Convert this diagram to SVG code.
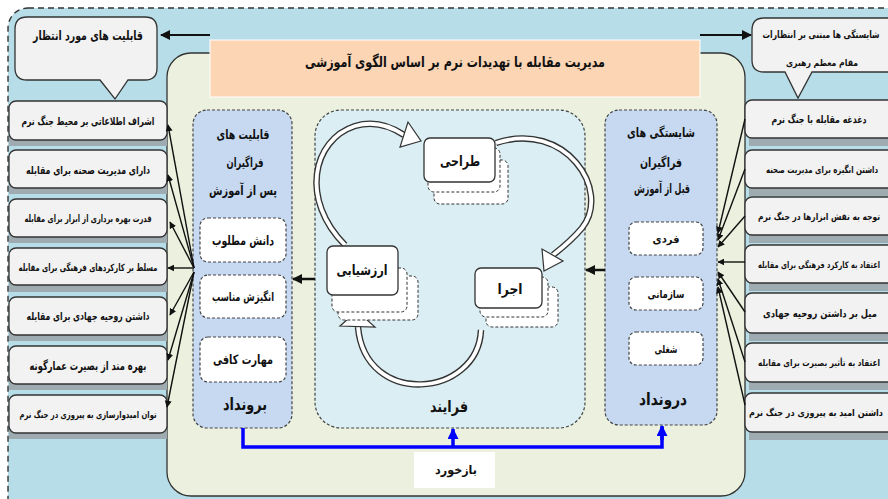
<svg xmlns="http://www.w3.org/2000/svg" width="888" height="499" viewBox="0 0 888 499">
<defs>
<style>
text{font-family:"DejaVu Sans","Noto Sans",sans-serif;font-weight:bold;fill:#111;text-anchor:middle}
.box{fill:#f2f2f2;stroke:#333;stroke-width:1.3}
.shadow{fill:#9eabb1}
.col{fill:#c6d9f1;stroke:#444;stroke-width:1.2;stroke-dasharray:3 2}
.inner{fill:#fff;stroke:#444;stroke-width:1.2;stroke-dasharray:3 2}
.pbox{fill:#fff;stroke:#333;stroke-width:1.3}
.pdash{fill:#fff;stroke:#333;stroke-width:1;stroke-dasharray:3 2}
.fan{stroke:#111;stroke-width:1.4;fill:none;marker-end:url(#ah)}
.band1{fill:none;stroke:#333;stroke-width:6.5}
.band2{fill:none;stroke:#fff;stroke-width:3.8}
.head{fill:#fff;stroke:#333;stroke-width:1.2}
.blue{fill:none;stroke:#0000ff;stroke-width:3.5}
</style>
<marker id="ah" viewBox="0 0 10 10" refX="9" refY="5" markerWidth="7" markerHeight="7" markerUnits="userSpaceOnUse" orient="auto">
<path d="M0,0 L10,5 L0,10 z" fill="#111"/>
</marker>
<marker id="ahb" viewBox="0 0 10 10" refX="9" refY="5" markerWidth="10" markerHeight="10" markerUnits="userSpaceOnUse" orient="auto">
<path d="M0,0 L10,5 L0,10 z" fill="#111"/>
</marker>
<marker id="ahblue" viewBox="0 0 10 10" refX="9" refY="5" markerWidth="11" markerHeight="11" markerUnits="userSpaceOnUse" orient="auto">
<path d="M0,0 L10,5 L0,10 z" fill="#0000ff"/>
</marker>
</defs>

<!-- background -->
<rect x="8" y="8" width="900" height="520" rx="20" fill="#b7dde8" stroke="#333" stroke-width="1.4" stroke-dasharray="6 4"/>
<rect x="167" y="53" width="578" height="443" rx="24" fill="#ebf1de" stroke="#333" stroke-width="1.3"/>

<g id="title">
<rect x="210" y="40" width="490" height="57" fill="#fcd5b4" stroke="#fff" stroke-width="1"/>
<text x="455" y="67" font-size="15" textLength="300" lengthAdjust="spacingAndGlyphs">مدیریت مقابله با تهدیدات نرم بر اساس الگوی آموزشی</text>
</g>

<g id="callout-left">
<path class="box" d="M27,17 H145 Q157,17 157,29 V68 Q157,80 145,80 H128 L115,99 L100,80 H27 Q15,80 15,68 V29 Q15,17 27,17 Z"/>
<text x="88" y="40" font-size="13" textLength="110" lengthAdjust="spacingAndGlyphs">قابلیت های مورد انتظار</text>
</g>
<g id="callout-right">
<path class="box" d="M764,18 H893 V72 H812 L798,98 L785,72 H764 Q752,72 752,60 V30 Q752,18 764,18 Z"/>
<text x="821" y="38" font-size="10" textLength="117" lengthAdjust="spacingAndGlyphs">شایستگی ها مبتنی بر انتظارات</text>
<text x="822" y="66" font-size="9.5" textLength="72" lengthAdjust="spacingAndGlyphs">مقام معظم رهبری</text>
</g>

<!-- left boxes -->
<g id="left-boxes">
<g id="L1"><rect class="shadow" x="9" y="106" width="158" height="40"/><rect class="box" x="9" y="101" width="158" height="39" rx="7"/><text x="88" y="125" font-size="11" textLength="133" lengthAdjust="spacingAndGlyphs">اشراف اطلاعاتی بر محیط جنگ نرم</text></g>
<g id="L2"><rect class="shadow" x="9" y="155" width="158" height="39"/><rect class="box" x="9" y="150" width="158" height="38" rx="7"/><text x="88" y="174" font-size="11" textLength="124" lengthAdjust="spacingAndGlyphs">دارای مدیریت صحنه برای مقابله</text></g>
<g id="L3"><rect class="shadow" x="9" y="204" width="158" height="39"/><rect class="box" x="9" y="199" width="158" height="38" rx="7"/><text x="88" y="222" font-size="10" textLength="127" lengthAdjust="spacingAndGlyphs">قدرت بهره برداری از ابزار برای مقابله</text></g>
<g id="L4"><rect class="shadow" x="9" y="253" width="158" height="39"/><rect class="box" x="9" y="248" width="158" height="37" rx="7"/><text x="88" y="271" font-size="10" textLength="139" lengthAdjust="spacingAndGlyphs">مسلط بر کارکردهای فرهنگی برای مقابله</text></g>
<g id="L5"><rect class="shadow" x="9" y="302" width="158" height="39"/><rect class="box" x="9" y="297" width="158" height="38" rx="7"/><text x="88" y="320" font-size="11" textLength="123" lengthAdjust="spacingAndGlyphs">داشتن روحیه جهادی برای مقابله</text></g>
<g id="L6"><rect class="shadow" x="9" y="351" width="158" height="39"/><rect class="box" x="9" y="346" width="158" height="38" rx="7"/><text x="88" y="370" font-size="12" textLength="117" lengthAdjust="spacingAndGlyphs">بهره مند از بصیرت عمارگونه</text></g>
<g id="L7"><rect class="shadow" x="9" y="400" width="158" height="39"/><rect class="box" x="9" y="395" width="158" height="38" rx="7"/><text x="88" y="418" font-size="9.5" textLength="137" lengthAdjust="spacingAndGlyphs">توان امیدوارسازی به پیروزی در جنگ نرم</text></g>
</g>

<!-- right boxes -->
<g id="right-boxes">
<g id="R1"><rect class="shadow" x="749" y="106" width="150" height="40"/><rect class="box" x="745" y="100" width="150" height="38" rx="7"/><text x="819" y="123" font-size="10.5" textLength="95" lengthAdjust="spacingAndGlyphs">دغدغه مقابله با جنگ نرم</text></g>
<g id="R2"><rect class="shadow" x="749" y="156" width="150" height="40"/><rect class="box" x="745" y="150" width="150" height="38" rx="7"/><text x="822" y="173" font-size="9.5" textLength="112" lengthAdjust="spacingAndGlyphs">داشتن انگیزه برای مدیریت صحنه</text></g>
<g id="R3"><rect class="shadow" x="749" y="203" width="150" height="40"/><rect class="box" x="745" y="197" width="150" height="38" rx="7"/><text x="819" y="220" font-size="9.5" textLength="122" lengthAdjust="spacingAndGlyphs">توجه به نقش ابزارها در جنگ نرم</text></g>
<g id="R4"><rect class="shadow" x="749" y="251" width="150" height="40"/><rect class="box" x="745" y="245" width="150" height="38" rx="7"/><text x="819" y="268" font-size="9" textLength="122" lengthAdjust="spacingAndGlyphs">اعتقاد به کارکرد فرهنگی برای مقابله</text></g>
<g id="R5"><rect class="shadow" x="749" y="299" width="150" height="42"/><rect class="box" x="745" y="293" width="150" height="40" rx="7"/><text x="820" y="317" font-size="10.5" textLength="114" lengthAdjust="spacingAndGlyphs">میل بر داشتن روحیه جهادی</text></g>
<g id="R6"><rect class="shadow" x="749" y="349" width="150" height="41"/><rect class="box" x="745" y="343" width="150" height="39" rx="7"/><text x="819" y="366" font-size="9" textLength="122" lengthAdjust="spacingAndGlyphs">اعتقاد به تأثیر بصیرت برای مقابله</text></g>
<g id="R7"><rect class="shadow" x="749" y="399" width="150" height="41"/><rect class="box" x="745" y="393" width="150" height="39" rx="7"/><text x="816" y="416" font-size="9.5" textLength="134" lengthAdjust="spacingAndGlyphs">داشتن امید به پیروزی در جنگ نرم</text></g>
</g>

<!-- output column -->
<g id="output">
<rect class="col" x="193" y="110" width="99" height="318" rx="14"/>
<text x="243" y="139" font-size="13" textLength="53" lengthAdjust="spacingAndGlyphs">قابلیت های</text>
<text x="245" y="167" font-size="13" textLength="37" lengthAdjust="spacingAndGlyphs">فراگیران</text>
<text x="243" y="195" font-size="13" textLength="68" lengthAdjust="spacingAndGlyphs">پس از آموزش</text>
<rect class="inner" x="200" y="218" width="86" height="44" rx="8"/>
<text x="243" y="245" font-size="13" textLength="62" lengthAdjust="spacingAndGlyphs">دانش مطلوب</text>
<rect class="inner" x="200" y="275" width="86" height="43" rx="8"/>
<text x="243" y="301" font-size="12" textLength="62" lengthAdjust="spacingAndGlyphs">انگیزش مناسب</text>
<rect class="inner" x="200" y="337" width="86" height="45" rx="8"/>
<text x="243" y="364" font-size="13" textLength="60" lengthAdjust="spacingAndGlyphs">مهارت کافی</text>
<text x="245" y="410" font-size="17" textLength="44" lengthAdjust="spacingAndGlyphs">برونداد</text>
</g>

<!-- input column -->
<g id="input">
<rect class="col" x="605" y="110" width="112" height="315" rx="14"/>
<text x="661" y="137" font-size="13" textLength="68" lengthAdjust="spacingAndGlyphs">شایستگی های</text>
<text x="661" y="167" font-size="13" textLength="42" lengthAdjust="spacingAndGlyphs">فراگیران</text>
<text x="662" y="193" font-size="13" textLength="56" lengthAdjust="spacingAndGlyphs">قبل از آموزش</text>
<rect class="inner" x="629" y="222" width="74" height="33" rx="7"/>
<text x="666" y="243" font-size="11" textLength="27" lengthAdjust="spacingAndGlyphs">فردی</text>
<rect class="inner" x="629" y="277" width="74" height="33" rx="7"/>
<text x="666" y="298" font-size="11" textLength="37" lengthAdjust="spacingAndGlyphs">سازمانی</text>
<rect class="inner" x="629" y="332" width="74" height="33" rx="7"/>
<text x="666" y="353" font-size="11" textLength="23" lengthAdjust="spacingAndGlyphs">شغلی</text>
<text x="663" y="405" font-size="17" textLength="48" lengthAdjust="spacingAndGlyphs">درونداد</text>
</g>

<!-- process -->
<g id="process">
<rect x="315" y="110" width="270" height="318" rx="26" fill="#daeef3" stroke="#444" stroke-width="1.2" stroke-dasharray="3 2"/>
<text x="449" y="412" font-size="16" textLength="38" lengthAdjust="spacingAndGlyphs">فرایند</text>
</g>

<g id="cycle-arrows">
<path class="band1" d="M345,245 C300,200 312,140 355,126 C375,120 392,127 404,135"/>
<path class="band2" d="M345,245 C300,200 312,140 355,126 C375,120 392,127 404,135"/>
<polygon class="head" points="421,141 400,147 408,122"/>
<path class="band1" d="M496,143 C565,120 612,190 582,228 C572,240 562,248 553,255"/>
<path class="band2" d="M496,143 C565,120 612,190 582,228 C572,240 562,248 553,255"/>
<polygon class="head" points="544,271 563,261 542,249"/>
<path class="band1" d="M481,330 C478,398 365,408 358,327"/>
<path class="band2" d="M481,330 C478,398 365,408 358,327"/>
<polygon class="head" points="357,311 340,326 375,327"/>
</g>

<g id="design">
<rect class="pdash" x="434" y="160" width="74" height="44" rx="6"/>
<rect class="pdash" x="428" y="148" width="72" height="44" rx="6"/>
<rect class="pbox" x="424" y="138" width="71" height="44" rx="6"/>
<text x="460" y="166" font-size="14" textLength="40" lengthAdjust="spacingAndGlyphs">طراحی</text>
</g>
<g id="evaluation">
<rect class="pdash" x="338" y="276" width="80" height="44" rx="6"/>
<rect class="pdash" x="332" y="268" width="75" height="44" rx="6"/>
<rect class="pbox" x="327" y="246" width="71" height="49" rx="6"/>
<text x="362" y="275" font-size="14" textLength="51" lengthAdjust="spacingAndGlyphs">ارزشیابی</text>
</g>
<g id="execution">
<rect class="pdash" x="486" y="287" width="72" height="40" rx="6"/>
<rect class="pdash" x="480" y="277" width="68" height="40" rx="6"/>
<rect class="pbox" x="475" y="268" width="67" height="40" rx="6"/>
<text x="510" y="294" font-size="14" textLength="25" lengthAdjust="spacingAndGlyphs">اجرا</text>
</g>

<g id="feedback-label">
<rect x="414" y="452" width="81" height="36" fill="#fff"/>
<text x="456" y="474" font-size="12" textLength="42" lengthAdjust="spacingAndGlyphs">بازخورد</text>
</g>

<!-- connectors -->
<g id="connectors">
<line x1="210" y1="35" x2="161" y2="35" stroke="#111" stroke-width="2" marker-end="url(#ahb)"/>
<line x1="700" y1="35" x2="751" y2="35" stroke="#111" stroke-width="2" marker-end="url(#ahb)"/>
<line x1="315" y1="279" x2="293" y2="279" stroke="#111" stroke-width="2.5" marker-end="url(#ahb)"/>
<line x1="605" y1="270" x2="586" y2="270" stroke="#111" stroke-width="2.5" marker-end="url(#ahb)"/>
<path class="fan" d="M194,268 L168,125"/>
<path class="fan" d="M194,268 L168,175"/>
<path class="fan" d="M194,268 L170,222"/>
<path class="fan" d="M194,268 L168,268"/>
<path class="fan" d="M194,272 L170,315"/>
<path class="fan" d="M194,272 L168,360"/>
<path class="fan" d="M194,272 L167,407"/>
<path class="fan" d="M745,119 L718,233"/>
<path class="fan" d="M745,169 L718,240"/>
<path class="fan" d="M745,216 L718,247"/>
<path class="fan" d="M745,262 L718,262"/>
<path class="fan" d="M745,312 L718,272"/>
<path class="fan" d="M745,362 L718,279"/>
<path class="fan" d="M745,405 L718,287"/>
<path class="blue" d="M243,428 V447 H662 V427"/>
<line x1="453" y1="447" x2="453" y2="429" stroke="#0000ff" stroke-width="3.5" marker-end="url(#ahblue)"/>
<line x1="662" y1="440" x2="662" y2="426" stroke="#0000ff" stroke-width="3.5" marker-end="url(#ahblue)"/>
</g>
</svg>
